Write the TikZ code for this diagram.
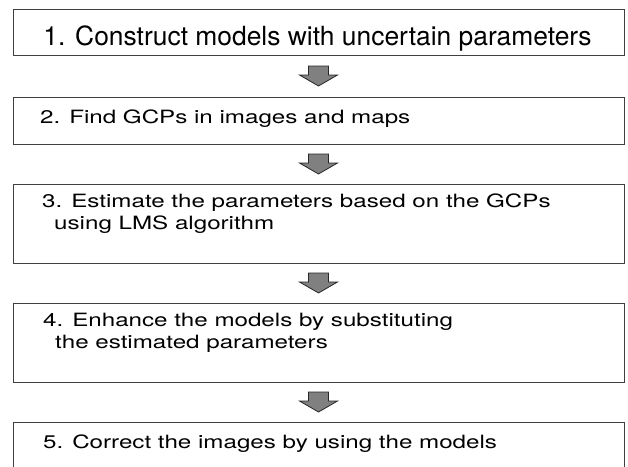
\documentclass[tikz,border=0pt]{standalone}
\usepackage{fontspec}
\setmainfont{TeX Gyre Heros}
\newcommand{\widetext}[1]{\scalebox{1.32}[1]{#1}}
\tikzset{
  stepbox/.style={draw=black!75, line width=0.9pt, minimum width=611pt, inner sep=0pt, outer sep=0pt},
  steptext/.style={anchor=base west, inner sep=0pt, font=\fontsize{18.3}{22}\selectfont},
  blockarrow/.style={draw=black!85, fill=black!50, line width=0.8pt, line join=miter}
}
\newcommand{\downarrowat}[1]{%
  \draw[blockarrow] (#1) ++(-10,-10) -- ++(20,0) -- ++(0,9) -- ++(9,0) -- ++(-19,11) -- ++(-19,-11) -- ++(9,0) -- cycle;}
\begin{document}
\begin{tikzpicture}[x=1pt,y=-1pt]
\useasboundingbox (0,0) rectangle (628,466);
\clip (0,0) rectangle (628,466);
\node[stepbox, minimum height=46pt] (b1) at (318.5,32) {};
\node[stepbox, minimum height=47pt] (b2) at (318.5,120.5) {};
\node[stepbox, minimum height=79pt] (b3) at (318.5,223.5) {};
\node[stepbox, minimum height=79pt] (b4) at (318.5,342.5) {};
\node[stepbox, minimum height=50pt] (b5) at (318.5,447) {};

\node[anchor=base, inner sep=0pt, font=\fontsize{26.4}{30}\selectfont] (t1) at (317.5,45) {1. Construct models with uncertain parameters};
\node[steptext] (t2) at (40,123) {\widetext{2. Find GCPs in images and maps}};
\node[steptext] (t3a) at (42,207) {\widetext{3. Estimate the parameters based on the GCPs}};
\node[steptext] (t3b) at (54,229) {\widetext{using LMS algorithm}};
\node[steptext] (t4a) at (43,326) {\widetext{4. Enhance the models by substituting}};
\node[steptext] (t4b) at (55,348) {\widetext{the estimated parameters}};
\node[steptext] (t5) at (43,448) {\widetext{5. Correct the images by using the models}};

\path (b1.south) -- (b2.north) coordinate[pos=0.5] (a1);
\path (b2.south) -- (b3.north) coordinate[pos=0.5] (a2);
\path (b3.south) -- (b4.north) coordinate[pos=0.5] (a3);
\path (b4.south) -- (b5.north) coordinate[pos=0.5] (a4);
\downarrowat{a1}
\downarrowat{a2}
\downarrowat{a3}
\downarrowat{a4}
\end{tikzpicture}
\end{document}
